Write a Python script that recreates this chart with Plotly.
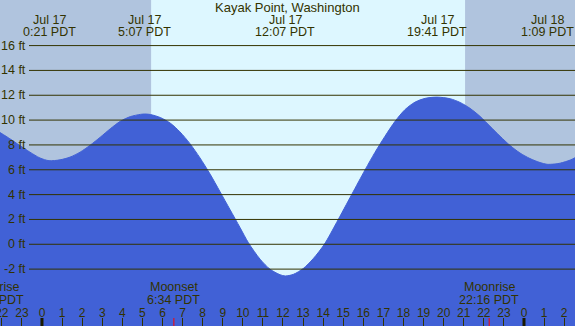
import plotly.graph_objects as go

# ---------------- data ----------------
location = "Kayak Point, Washington"

# tide curve (hours after Jul 17 00:00 PDT, feet)
tide_hours = [-2.09, -1.6, -1.1, -0.6, -0.1, 0.35, 0.9, 1.4, 1.9, 2.4, 2.9, 3.4, 3.9,
              4.4, 4.9, 5.12, 5.4, 5.9, 6.4, 6.87, 7.37, 7.87, 8.37, 8.86, 9.36, 9.86,
              10.28, 10.86, 11.35, 11.85, 12.12, 12.52, 13.01, 13.51, 14.06, 14.67,
              15.42, 16.09, 16.58, 17.08, 17.58, 18.08, 18.58, 19.08, 19.68,
              20.32, 20.82, 21.31, 21.81, 22.31, 22.81, 23.31, 23.8, 24.3, 24.8, 25.15,
              25.5, 25.8, 26.3, 26.54]
tide_ft = [9.0, 8.5, 7.95, 7.42, 6.95, 6.73, 6.8, 7.02, 7.42, 7.98, 8.62, 9.3, 9.9,
           10.28, 10.46, 10.49, 10.45, 10.2, 9.74, 9.05, 8.1, 6.95, 5.65, 4.25, 2.8, 1.35,
           0.12, -1.2, -2.0, -2.45, -2.55, -2.42, -1.95, -1.15, 0.0, 1.75,
           4.0, 6.0, 7.4, 8.7, 9.9, 10.85, 11.45, 11.75, 11.85,
           11.72, 11.42, 10.95, 10.3, 9.5, 8.7, 7.95, 7.35, 6.9, 6.58, 6.44,
           6.46, 6.53, 6.78, 6.97]

extreme_hours = [0.35, 5.117, 12.117, 19.683, 25.15]
extreme_dates = ["Jul 17", "Jul 17", "Jul 17", "Jul 17", "Jul 18"]
extreme_times = ["0:21 PDT", "5:07 PDT", "12:07 PDT", "19:41 PDT", "1:09 PDT"]

sunrise_hour = 5 + 26 / 60
sunset_hour = 21 + 4 / 60

moon_events = ["Moonrise", "Moonset", "Moonrise"]
moon_hours = [-2.4, 6 + 34 / 60, 22 + 16 / 60]
moon_times = ["21:36 PDT", "6:34 PDT", "22:16 PDT"]

hour_ticks = list(range(-2, 27))
hour_labels = [str(h % 24) for h in hour_ticks]
midnight_hours = [0, 24]

height_ticks = list(range(-2, 17, 2))
height_labels = [f"{v} ft" for v in height_ticks]

x_range = [-2.09, 26.54]
y_range = [-6.58, 19.67]

# ---------------- style ----------------
W, H = 575, 326
FONT = "Liberation Sans, Arial, sans-serif"
TXT = "#333300"
DAY_BG = "#DDF7FF"
NIGHT_BG = "#B0C4DE"
WATER = "#4161D6"


def py(px):
    """pixel offset from top -> paper y"""
    return 1 - px / H


def px_x(hour):
    return (hour - x_range[0]) / (x_range[1] - x_range[0])


fig = go.Figure()
fig.add_trace(go.Scatter(x=[x_range[0], x_range[1]], y=[y_range[0], y_range[0]],
                         mode="lines", line=dict(width=0), hoverinfo="skip",
                         showlegend=False))
fig.add_trace(go.Scatter(x=tide_hours, y=tide_ft, mode="lines", fill="tonexty",
                         fillcolor=WATER, line=dict(color=WATER, width=1, shape="spline",
                                                    smoothing=0.8),
                         showlegend=False))

shapes = []
# night shading
shapes.append(dict(type="rect", xref="x", yref="paper", x0=x_range[0], x1=sunrise_hour,
                   y0=0, y1=1, fillcolor=NIGHT_BG, line=dict(width=0), layer="below"))
shapes.append(dict(type="rect", xref="x", yref="paper", x0=sunset_hour, x1=x_range[1],
                   y0=0, y1=1, fillcolor=NIGHT_BG, line=dict(width=0), layer="below"))
# height grid lines on top of water
for v in height_ticks:
    shapes.append(dict(type="line", xref="paper", yref="y", x0=29 / W, x1=1, y0=v, y1=v,
                       line=dict(color=TXT, width=1), layer="above"))
# midnight ticks (thick) and moon ticks (red)
for h in midnight_hours:
    shapes.append(dict(type="line", xref="x", yref="paper", x0=h, x1=h, y0=0,
                       y1=8 / H, line=dict(color="#1a1a00", width=3), layer="above"))
for h in moon_hours:
    shapes.append(dict(type="line", xref="x", yref="paper", x0=h, x1=h, y0=0,
                       y1=8 / H, line=dict(color="#FF0000", width=1), layer="above"))

ann = []
ann.append(dict(text=location, xref="paper", yref="paper", x=0.5, y=py(7.5),
                xanchor="center", yanchor="middle", showarrow=False,
                font=dict(size=13, color=TXT, family=FONT)))
for h, d, t in zip(extreme_hours, extreme_dates, extreme_times):
    ann.append(dict(text=d, xref="x", yref="paper", x=h, y=py(20.5), xanchor="center",
                    yanchor="middle", showarrow=False,
                    font=dict(size=12.5, color=TXT, family=FONT)))
    ann.append(dict(text=t, xref="x", yref="paper", x=h, y=py(32.5), xanchor="center",
                    yanchor="middle", showarrow=False,
                    font=dict(size=12.5, color=TXT, family=FONT)))
for h, e, t in zip(moon_hours, moon_events, moon_times):
    ann.append(dict(text=e, xref="paper", yref="paper", x=px_x(h), y=py(287),
                    xanchor="center", yanchor="middle", showarrow=False,
                    font=dict(size=12.5, color=TXT, family=FONT)))
    ann.append(dict(text=t, xref="paper", yref="paper", x=px_x(h), y=py(299.5),
                    xanchor="center", yanchor="middle", showarrow=False,
                    font=dict(size=12.5, color=TXT, family=FONT)))
for v, lab in zip(height_ticks, height_labels):
    ann.append(dict(text=lab, xref="paper", yref="y", x=27.5 / W, y=v, xanchor="right",
                    yanchor="middle", showarrow=False,
                    font=dict(size=12.5, color=TXT, family=FONT)))

fig.update_layout(
    width=W, height=H, margin=dict(l=0, r=0, t=0, b=0, autoexpand=False),
    paper_bgcolor=DAY_BG, plot_bgcolor=DAY_BG,
    shapes=shapes, annotations=ann, showlegend=False,
    xaxis=dict(range=x_range, automargin=False, showgrid=False, zeroline=False,
               showline=False,
               ticks="inside", ticklen=8, tickwidth=1, tickcolor="#333300",
               tickvals=hour_ticks, ticktext=hour_labels, ticklabelposition="inside",
               ticklabelstandoff=-2,
               ticklabeloverflow="allow", tickfont=dict(size=12, color=TXT, family=FONT),
               fixedrange=True),
    yaxis=dict(range=y_range, automargin=False, visible=False, fixedrange=True),
)

fig.write_html("out.html", config={"displayModeBar": False},
               post_script="document.body.style.margin='0';"
                           "document.body.style.overflow='hidden';")
